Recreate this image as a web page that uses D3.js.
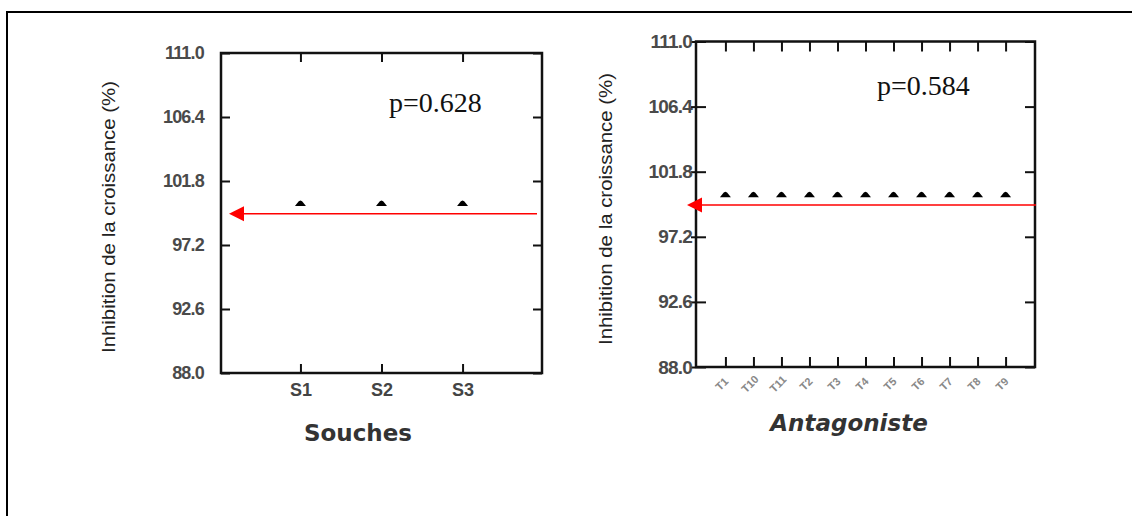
<!DOCTYPE html>
<html>
<head>
<meta charset="utf-8">
<script src="https://cdn.jsdelivr.net/npm/d3@7"></script>
<style>
  body { margin: 0; background: #fff; }
  svg { display: block; }
</style>
</head>
<body>
<svg id="plot" width="1132" height="516"></svg>
<script>
// values
const yTickValues = [88.0, 92.6, 97.2, 101.8, 106.4, 111.0];
const soucheNames = ["S1", "S2", "S3"];
const soucheMeans = [100.0, 100.0, 100.0];
const antagonisteNames = ["T1", "T10", "T11", "T2", "T3", "T4", "T5", "T6", "T7", "T8", "T9"];
const antagonisteMeans = [100.0, 100.0, 100.0, 100.0, 100.0, 100.0, 100.0, 100.0, 100.0, 100.0, 100.0];
const pLabels = ["p=0.628", "p=0.584"];
const arrowLevels = [99.45, 99.45];
const yTitle = "Inhibition de la croissance (%)";

const svg = d3.select("#plot");

// outer frame (only top and left edges fall inside the picture)
svg.append("rect")
  .attr("x", 7).attr("y", 12)
  .attr("width", 1200).attr("height", 600)
  .attr("fill", "none")
  .attr("stroke", "#000")
  .attr("stroke-width", 2);

// rounded triangle marker, base on the value
const dome = {
  draw(ctx, size) {
    const r = Math.sqrt(size / 2);
    ctx.moveTo(-r, 0);
    ctx.lineTo(-r * 0.6, -r * 0.5);
    ctx.quadraticCurveTo(0, -r * 1.5, r * 0.6, -r * 0.5);
    ctx.lineTo(r, 0);
    ctx.closePath();
  }
};

function drawPanel(p) {
  const x = d3.scalePoint()
    .domain(p.names)
    .range([p.left, p.right])
    .padding(p.xPad);

  const y = d3.scaleLinear()
    .domain([88, 111])
    .range([p.bottom, p.top]);

  const g = svg.append("g");

  // left axis
  const yAxis = g.append("g")
    .attr("transform", "translate(" + p.left + ",0)")
    .call(d3.axisLeft(y)
      .tickValues(yTickValues)
      .tickFormat(d3.format(".1f"))
      .tickSizeInner(p.yTickOut)
      .tickSizeOuter(0)
      .tickPadding(p.yLabelPad));
  yAxis.selectAll(".tick line").attr("x1", p.tickLen);
  yAxis.selectAll(".tick text")
    .style("font-family", "Liberation Sans, Arial, sans-serif")
    .style("font-size", p.yFont + "px")
    .style("font-weight", "bold")
    .style("letter-spacing", "-0.8px")
    .attr("fill", "#4a4a4a");

  // right axis
  g.append("g")
    .attr("transform", "translate(" + p.right + ",0)")
    .call(d3.axisRight(y).tickValues(yTickValues).tickFormat("").tickSizeInner(-p.tickLen).tickSizeOuter(0));

  // top axis
  g.append("g")
    .attr("transform", "translate(0," + p.top + ")")
    .call(d3.axisTop(x).tickFormat("").tickSizeInner(-p.tickLen).tickSizeOuter(0));

  // bottom axis
  const xAxis = g.append("g")
    .attr("transform", "translate(0," + p.bottom + ")")
    .call(d3.axisBottom(x).tickSizeInner(-p.tickLen).tickSizeOuter(0).tickPadding(10));
  xAxis.selectAll(".tick text")
    .style("font-family", "Liberation Sans, Arial, sans-serif")
    .style("font-size", p.xFont + "px")
    .style("font-weight", "bold")
    .attr("fill", p.xColor);
  if (p.rotate) {
    xAxis.selectAll(".tick text")
      .attr("y", 0).attr("dy", "0.35em")
      .attr("transform", "translate(-4,17) rotate(-45)")
      .style("text-anchor", "middle");
  }

  g.selectAll(".domain").remove();
  g.selectAll(".tick line").attr("stroke", "#111").attr("stroke-width", 2);

  // plot box
  g.append("rect")
    .attr("x", p.left).attr("y", p.top)
    .attr("width", p.right - p.left).attr("height", p.bottom - p.top)
    .attr("fill", "none")
    .attr("stroke", "#111")
    .attr("stroke-width", 2.5);

  // means
  g.selectAll(".pt")
    .data(p.names.map((n, i) => ({ name: n, value: p.values[i] })))
    .enter().append("path")
    .attr("class", "pt")
    .attr("transform", d => "translate(" + x(d.name) + "," + y(d.value) + ")")
    .attr("d", d3.symbol().type(dome).size(60))
    .attr("fill", "#000");

  // red arrow
  const ay = y(p.arrow);
  g.append("line")
    .attr("x1", p.arrowStart).attr("x2", p.arrowTip + 14)
    .attr("y1", ay).attr("y2", ay)
    .attr("stroke", "#f00")
    .attr("stroke-width", 1.6);
  g.append("path")
    .attr("d", d3.line()([[p.arrowTip, ay], [p.arrowTip + 15, ay - 7.5], [p.arrowTip + 15, ay + 7.5]]) + "Z")
    .attr("fill", "#f00");

  // p value
  g.append("text")
    .attr("x", p.pX).attr("y", p.pY)
    .style("font-family", "Liberation Serif, Times New Roman, serif")
    .style("font-size", "28px")
    .attr("fill", "#111")
    .text(p.pText);

  // axis titles
  g.append("text")
    .attr("x", p.titleX).attr("y", p.titleY)
    .style("font-family", "DejaVu Sans, Verdana, sans-serif")
    .style("font-size", "23px")
    .style("font-weight", "bold")
    .style("font-style", p.titleItalic ? "italic" : "normal")
    .style("text-anchor", "middle")
    .attr("fill", "#333")
    .text(p.title);

  g.append("text")
    .attr("transform", "translate(" + p.yTitleX + "," + p.yTitleY + ") rotate(-90)")
    .attr("textLength", 272)
    .attr("lengthAdjust", "spacingAndGlyphs")
    .style("font-family", "Liberation Sans, Arial, sans-serif")
    .style("font-size", "18px")
    .style("text-anchor", "middle")
    .attr("fill", "#222")
    .text(yTitle);
}

drawPanel({
  names: soucheNames, values: soucheMeans,
  left: 221, right: 542, top: 53, bottom: 373, xPad: 0.98,
  tickLen: 9, yTickOut: 0, yLabelPad: 17, yFont: 18,
  xFont: 18, xColor: "#444", rotate: false,
  arrow: arrowLevels[0], arrowStart: 537, arrowTip: 229,
  pText: pLabels[0], pX: 389, pY: 112,
  title: "Souches", titleX: 358, titleY: 441, titleItalic: false,
  yTitleX: 115, yTitleY: 217
});

drawPanel({
  names: antagonisteNames, values: antagonisteMeans,
  left: 696, right: 1035, top: 41.5, bottom: 367, xPad: 1.05,
  tickLen: 10, yTickOut: 5, yLabelPad: -1, yFont: 19,
  xFont: 11, xColor: "#888", rotate: true,
  arrow: arrowLevels[1], arrowStart: 1036, arrowTip: 687,
  pText: pLabels[1], pX: 877, pY: 95,
  title: "Antagoniste", titleX: 849, titleY: 431, titleItalic: true,
  yTitleX: 612, yTitleY: 209
});
</script>
</body>
</html>
